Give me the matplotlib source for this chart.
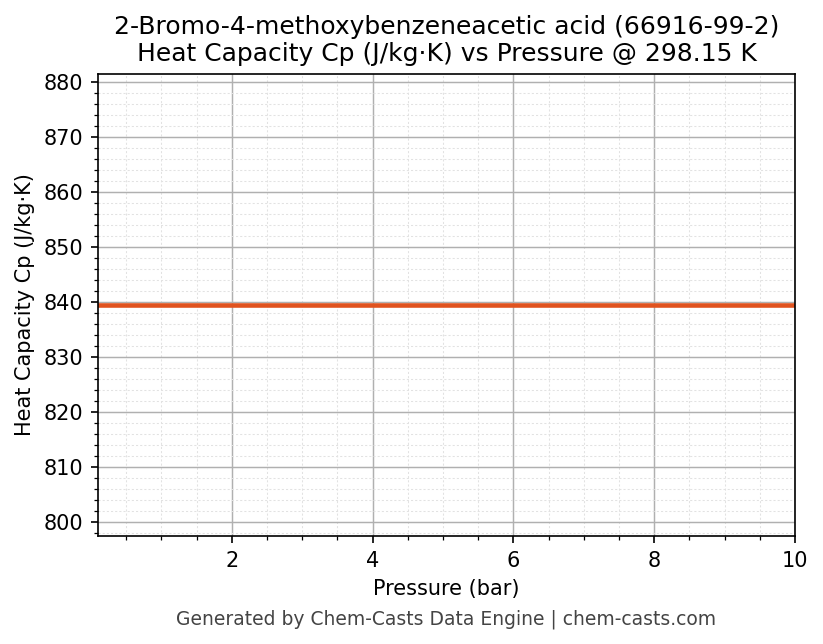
import matplotlib
matplotlib.use("Agg")
import matplotlib.pyplot as plt
from matplotlib.ticker import AutoMinorLocator
import numpy as np

pressure_bar = [0.1, 1.0, 2.0, 3.0, 4.0, 5.0, 6.0, 7.0, 8.0, 9.0, 10.0]
cp_values = [839.4] * len(pressure_bar)

title = "2-Bromo-4-methoxybenzeneacetic acid (66916-99-2)\nHeat Capacity Cp (J/kg·K) vs Pressure @ 298.15 K"
xlabel = "Pressure (bar)"
ylabel = "Heat Capacity Cp (J/kg·K)"
footer = "Generated by Chem-Casts Data Engine | chem-casts.com"

fig = plt.figure(figsize=(823/150, 644/150), dpi=150)
ax = fig.add_axes([98/823, 1-536/644, (795-98)/823, (536-74)/644])

ax.plot(pressure_bar, cp_values, color="#E0531F", linewidth=2.2)

v = cp_values[0]
ax.set_xlim(min(pressure_bar), max(pressure_bar))
ax.set_ylim(v*0.95, v*1.05)
ax.xaxis.set_minor_locator(AutoMinorLocator(4))
ax.yaxis.set_minor_locator(AutoMinorLocator(5))
ax.grid(True, which="major", color="#b0b0b0", linewidth=0.7)
ax.grid(True, which="minor", color="#e2e2e2", linestyle=(0, (2, 2)), linewidth=0.5)
ax.set_axisbelow(True)

ax.set_title(title, fontsize=12)
ax.set_xlabel(xlabel, fontsize=10)
ax.set_ylabel(ylabel, fontsize=10)
ax.tick_params(labelsize=10)
fig.text(446/823, 1-619/644, footer, ha="center", va="center", fontsize=9, color="#444444")

fig.savefig("out.png", dpi=150)
